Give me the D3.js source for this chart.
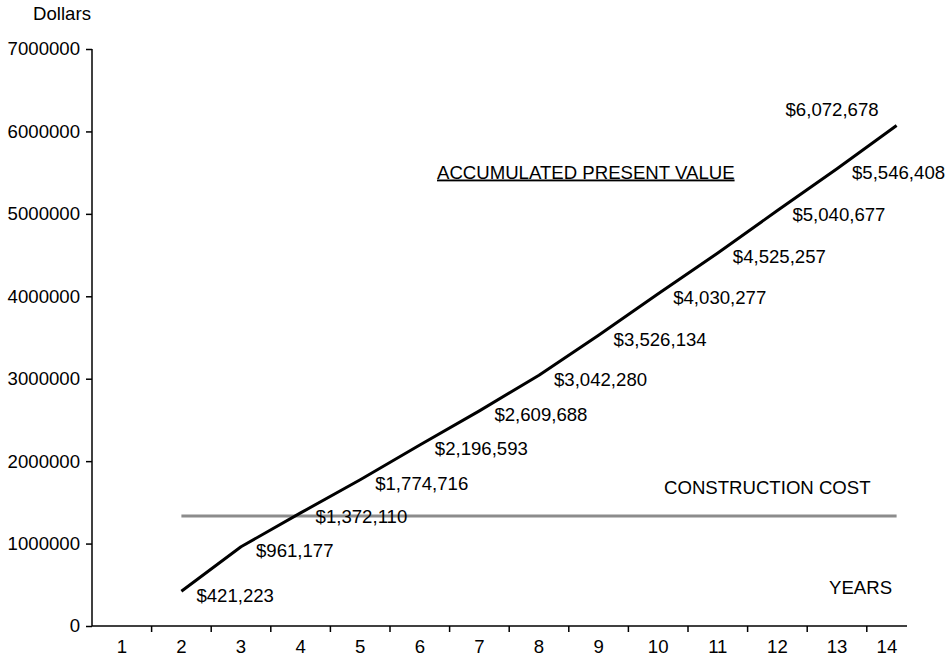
<!DOCTYPE html>
<html>
<head>
<meta charset="utf-8">
<script src="https://cdn.jsdelivr.net/npm/d3@7"></script>
<style>
  html, body { margin: 0; padding: 0; background: #fff; }
  svg { display: block; font-family: "Liberation Sans", Arial, Helvetica, sans-serif; }
</style>
</head>
<body>
<svg id="chart" width="952" height="656"></svg>
<script>
const years = [2, 3, 4, 5, 6, 7, 8, 9, 10, 11, 12, 13, 14];
const presentValue = [421223, 961177, 1372110, 1774716, 2196593, 2609688, 3042280, 3526134, 4030277, 4525257, 5040677, 5546408, 6072678];
const xTickLabels = [1, 2, 3, 4, 5, 6, 7, 8, 9, 10, 11, 12, 13, 14];
const yTickValues = [0, 1000000, 2000000, 3000000, 4000000, 5000000, 6000000, 7000000];
const constructionYears = [2, 14];
const constructionCost = 1335000;

(function () {
const svg = d3.select("#chart");
const fs = 18.6;

const plotLeft = 92, plotBottom = 626, plotTop = 49, axisEnd = 907;
const step = 59.6;
const x = d3.scaleLinear().domain([0.5, 14.5]).range([plotLeft, plotLeft + 14 * step]);
const y = d3.scaleLinear().domain([0, 7000000]).range([plotBottom, plotTop]);

// Y axis
const yAxis = d3.axisLeft(y).tickValues(yTickValues).tickFormat(d3.format("d")).tickSize(6).tickPadding(6);
const gy = svg.append("g").attr("transform", `translate(${plotLeft},0)`).call(yAxis);
gy.select(".domain").attr("stroke", "#000").attr("stroke-width", 1.5).attr("d", `M0,${plotTop}V${plotBottom}`);
gy.selectAll(".tick line").attr("stroke", "#000").attr("stroke-width", 1.5);
gy.selectAll(".tick text").attr("font-size", fs).attr("fill", "#000").attr("font-family", "Liberation Sans, Arial, sans-serif");

// X axis (ticks at boundaries between years)
const gx = svg.append("g");
gx.append("line").attr("x1", plotLeft).attr("x2", axisEnd).attr("y1", plotBottom).attr("y2", plotBottom)
  .attr("stroke", "#000").attr("stroke-width", 1.5);
const boundaries = xTickLabels.slice(0, -1).map(d => d + 0.5);
gx.selectAll("line.tk").data(boundaries).enter().append("line").attr("class", "tk")
  .attr("x1", d => x(d)).attr("x2", d => x(d)).attr("y1", plotBottom).attr("y2", plotBottom + 6)
  .attr("stroke", "#000").attr("stroke-width", 1.5);
const lastDomain = x.invert(axisEnd);
gx.selectAll("text").data(xTickLabels).enter().append("text")
  .attr("x", (d, i) => i === xTickLabels.length - 1 ? x((d - 0.5 + lastDomain) / 2) : x(d))
  .attr("y", plotBottom + 20)
  .attr("dy", "0.35em")
  .attr("text-anchor", "middle").attr("font-size", fs).text(d => d);

// Y axis title
svg.append("text").attr("x", 62).attr("y", 20).attr("text-anchor", "middle").attr("font-size", fs).text("Dollars");

// Construction cost line
svg.append("line")
  .attr("x1", x(constructionYears[0])).attr("x2", x(constructionYears[1]))
  .attr("y1", y(constructionCost)).attr("y2", y(constructionCost))
  .attr("stroke", "#8c8c8c").attr("stroke-width", 3);

// Present value line
const line = d3.line().x((d, i) => x(years[i])).y(d => y(d));
svg.append("path").datum(presentValue).attr("d", line)
  .attr("fill", "none").attr("stroke", "#000").attr("stroke-width", 3).attr("stroke-linejoin", "round");

// Value labels
const fmt = v => "$" + d3.format(",")(v);
const n = presentValue.length;
svg.selectAll("text.val").data(presentValue).enter().append("text").attr("class", "val")
  .attr("x", (d, i) => i === n - 1 ? x(years[i]) - 18 : x(years[i]) + 15)
  .attr("y", (d, i) => i === n - 1 ? y(d) - 16 : y(d) + 4)
  .attr("dy", "0.35em")
  .attr("text-anchor", (d, i) => i === n - 1 ? "end" : "start")
  .attr("font-size", fs).text(fmt);

// Annotations
svg.append("text").attr("x", 437).attr("y", 172).attr("dy", "0.35em").attr("font-size", fs)
  .attr("text-decoration", "underline").text("ACCUMULATED PRESENT VALUE");
svg.append("text").attr("x", 664).attr("y", 487).attr("dy", "0.35em").attr("font-size", fs).text("CONSTRUCTION COST");
svg.append("text").attr("x", 829).attr("y", 587).attr("dy", "0.35em").attr("font-size", fs).text("YEARS");
})();
</script>
</body>
</html>
